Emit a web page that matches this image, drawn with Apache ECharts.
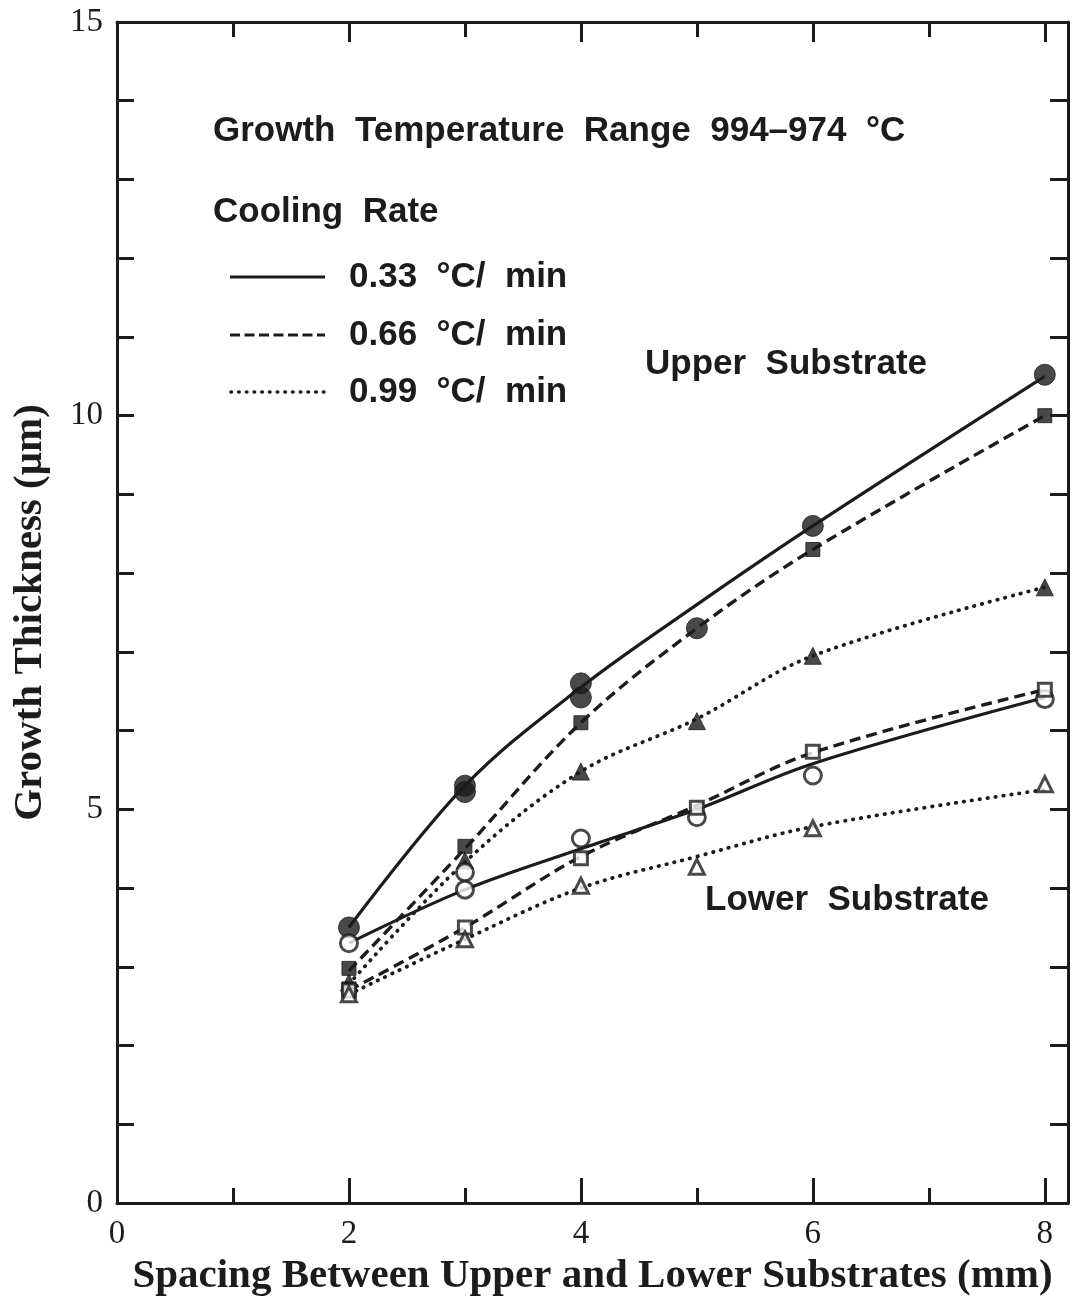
<!DOCTYPE html>
<html>
<head>
<meta charset="utf-8">
<script src="https://cdn.jsdelivr.net/npm/echarts@6/dist/echarts.min.js"></script>
<style>
  html, body { margin: 0; padding: 0; background: #fff; }
  #chart { width: 1078px; height: 1298px; }
</style>
</head>
<body>
<div id="chart"></div>
<script>
// Spacing between substrates (mm) at which the fitted curves are drawn
const spacing = [2, 3, 4, 5, 6, 8];

// Fitted growth-thickness curves (µm), upper substrate
const upperCurve033 = [3.5, 5.3, 6.55, 7.6, 8.6, 10.5];
const upperCurve066 = [2.95, 4.5, 6.1, 7.3, 8.3, 10.0];
const upperCurve099 = [2.78, 4.33, 5.48, 6.15, 6.95, 7.82];

// Fitted growth-thickness curves (µm), lower substrate
const lowerCurve033 = [3.3, 3.98, 4.5, 5.0, 5.58, 6.42];
const lowerCurve066 = [2.7, 3.5, 4.4, 5.05, 5.72, 6.52];
const lowerCurve099 = [2.65, 3.35, 4.0, 4.4, 4.78, 5.25];

// Measured points [spacing, thickness]
const upperPts033 = [[2, 3.5], [3, 5.3], [3, 5.22], [4, 6.6], [4, 6.42], [5, 7.3], [6, 8.6], [8, 10.52]];
const upperPts066 = [[2, 2.98], [2, 2.72], [3, 4.53], [4, 6.1], [6, 8.3], [8, 10.0]];
const upperPts099 = [[2, 2.8], [3, 4.35], [4, 5.48], [5, 6.12], [6, 6.95], [8, 7.82]];
const lowerPts033 = [[2, 3.3], [3, 4.2], [3, 3.98], [4, 4.63], [5, 4.9], [6, 5.43], [8, 6.4]];
const lowerPts066 = [[2, 2.7], [3, 3.5], [4, 4.38], [5, 5.02], [6, 5.73], [8, 6.52]];
const lowerPts099 = [[2, 2.65], [3, 3.35], [4, 4.03], [5, 4.27], [6, 4.76], [8, 5.32]];

// Axis ticks and labels
const xMajorTicks = [0, 2, 4, 6, 8];
const xMinorTicks = [1, 3, 5, 7];
const yLabelValues = [0, 5, 10, 15];

// Legend entries for the cooling rates
const rateLabels = ['0.33  °C/  min', '0.66  °C/  min', '0.99  °C/  min'];

const INK = '#1c1c1c';
const SERIF = "'Liberation Serif', 'Times New Roman', serif";
const SANS = "'Liberation Sans', Arial, sans-serif";
const NOTE_FONT = `bold 35px ${SANS}`;

const lineTypes = {
  solid: { type: 'solid', width: 3.2 },
  dashed: { type: [11, 6], width: 3.4 },
  dotted: { type: [0.5, 7.5], width: 3.8, cap: 'round' }
};

function curve(data, style) {
  return {
    type: 'line',
    data: spacing.map((x, i) => [x, data[i]]),
    smooth: 0.35,
    symbol: 'none',
    lineStyle: Object.assign({ color: INK }, style),
    z: 2,
    silent: true
  };
}

function points(data, symbol, size, filled) {
  return {
    type: 'scatter',
    data: data,
    symbol: symbol,
    symbolSize: size,
    itemStyle: filled
      ? { color: INK, borderColor: INK, borderWidth: 1 }
      : { color: '#fff', borderColor: INK, borderWidth: 3 },
    z: 5,
    silent: true
  };
}

const frameLine = { show: true, onZero: false, lineStyle: { color: INK, width: 3 } };
const tickStyle = { color: INK, width: 3 };
const baseX = { type: 'value', min: 0, max: 8.2, interval: 1, gridIndex: 0, splitLine: { show: false } };

const chart = echarts.init(document.getElementById('chart'), null, { renderer: 'canvas' });

chart.setOption({
  backgroundColor: '#fff',
  animation: false,
  grid: { left: 117, right: 10, top: 22, bottom: 95, containLabel: false, outerBoundsMode: 'none' },
  xAxis: [
    Object.assign({}, baseX, {
      position: 'bottom',
      axisLine: frameLine,
      axisTick: { show: true, inside: true, length: 15, customValues: xMinorTicks, lineStyle: tickStyle },
      axisLabel: { show: true, customValues: xMajorTicks, margin: 15, color: INK, fontFamily: SERIF, fontSize: 33 },
      name: 'Spacing Between Upper and Lower Substrates (mm)',
      nameLocation: 'middle',
      nameGap: 51,
      nameTextStyle: { color: INK, fontFamily: SERIF, fontWeight: 'bold', fontSize: 41 }
    }),
    Object.assign({}, baseX, {
      position: 'bottom',
      axisLine: { show: false, onZero: false },
      axisTick: { show: true, inside: true, length: 25, customValues: xMajorTicks, lineStyle: tickStyle },
      axisLabel: { show: false }
    }),
    Object.assign({}, baseX, {
      position: 'top',
      axisLine: frameLine,
      axisTick: { show: true, inside: true, length: 15, customValues: xMinorTicks, lineStyle: tickStyle },
      axisLabel: { show: false }
    }),
    Object.assign({}, baseX, {
      position: 'top',
      axisLine: { show: false, onZero: false },
      axisTick: { show: true, inside: true, length: 20, customValues: xMajorTicks, lineStyle: tickStyle },
      axisLabel: { show: false }
    })
  ],
  yAxis: [
    {
      type: 'value', min: 0, max: 15, interval: 1, position: 'left',
      splitLine: { show: false },
      axisLine: frameLine,
      axisTick: { show: true, inside: true, length: 17, lineStyle: tickStyle },
      axisLabel: { show: true, customValues: yLabelValues, margin: 14, color: INK, fontFamily: SERIF, fontSize: 33 },
      name: 'Growth Thickness (\u03bcm)',
      nameLocation: 'middle',
      nameGap: 66,
      nameRotate: 90,
      nameTextStyle: { color: INK, fontFamily: SERIF, fontWeight: 'bold', fontSize: 41 }
    },
    {
      type: 'value', min: 0, max: 15, interval: 1, position: 'right',
      splitLine: { show: false },
      axisLine: frameLine,
      axisTick: { show: true, inside: true, length: 18, lineStyle: tickStyle },
      axisLabel: { show: false }
    }
  ],
  series: [
    curve(upperCurve033, lineTypes.solid),
    curve(upperCurve066, lineTypes.dashed),
    curve(upperCurve099, lineTypes.dotted),
    curve(lowerCurve033, lineTypes.solid),
    curve(lowerCurve066, lineTypes.dashed),
    curve(lowerCurve099, lineTypes.dotted),
    points(upperPts033, 'circle', 21, true),
    points(upperPts066, 'rect', 14, true),
    points(upperPts099, 'triangle', 17, true),
    points(lowerPts033, 'circle', 17, false),
    points(lowerPts066, 'rect', 13, false),
    points(lowerPts099, 'triangle', 15, false)
  ],
  graphic: [
    { type: 'text', style: { x: 213, y: 131, text: 'Growth  Temperature  Range  994\u2013974  °C', font: NOTE_FONT, fill: INK, verticalAlign: 'middle' } },
    { type: 'text', style: { x: 213, y: 212, text: 'Cooling  Rate', font: NOTE_FONT, fill: INK, verticalAlign: 'middle' } },
    { type: 'line', shape: { x1: 230, y1: 277, x2: 325, y2: 277 }, style: { stroke: INK, lineWidth: 3 } },
    { type: 'line', shape: { x1: 230, y1: 335, x2: 325, y2: 335 }, style: { stroke: INK, lineWidth: 3.2, lineDash: [10, 4.5] } },
    { type: 'line', shape: { x1: 231, y1: 392, x2: 324, y2: 392 }, style: { stroke: INK, lineWidth: 3.6, lineDash: [0.5, 7.2], lineCap: 'round' } },
    { type: 'text', style: { x: 349, y: 277, text: rateLabels[0], font: NOTE_FONT, fill: INK, verticalAlign: 'middle' } },
    { type: 'text', style: { x: 349, y: 335, text: rateLabels[1], font: NOTE_FONT, fill: INK, verticalAlign: 'middle' } },
    { type: 'text', style: { x: 349, y: 392, text: rateLabels[2], font: NOTE_FONT, fill: INK, verticalAlign: 'middle' } },
    { type: 'text', style: { x: 645, y: 364, text: 'Upper  Substrate', font: NOTE_FONT, fill: INK, verticalAlign: 'middle' } },
    { type: 'text', style: { x: 705, y: 900, text: 'Lower  Substrate', font: NOTE_FONT, fill: INK, verticalAlign: 'middle' } }
  ]
});
</script>
</body>
</html>
